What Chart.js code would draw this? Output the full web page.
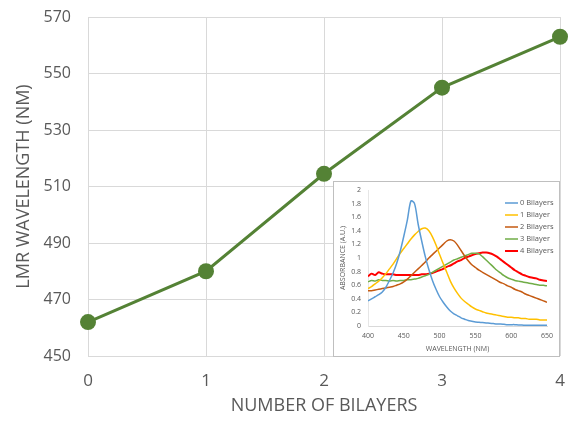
<!DOCTYPE html>
<html><head><meta charset="utf-8">
<script src="https://cdn.jsdelivr.net/npm/chart.js@4/dist/chart.umd.min.js"></script>
<style>
html,body{margin:0;padding:0;background:#fff;}
#wrap{position:relative;width:569px;height:423px;}
#main{position:absolute;left:0;top:0;}
#insetBox{position:absolute;left:333px;top:181px;width:227px;height:176px;box-sizing:border-box;border:1px solid #BFBFBF;background:#fff;}
#inset{position:absolute;left:0;top:0;}
</style></head>
<body>
<div id="wrap">
<canvas id="main" width="569" height="423"></canvas>
<div id="insetBox"><canvas id="inset" width="225" height="174"></canvas></div>
</div>
<script>
// Main chart data
const bilayers = [0, 1, 2, 3, 4];
const lmrWavelength = [462, 480, 514.5, 545, 563];
const mainYTicks = [450, 470, 490, 510, 530, 550, 570];

// Inset spectra data
const wavelengths = [400,405,410,415,420,425,430,435,440,445,450,455,460,465,470,475,480,485,490,495,500,505,510,515,520,525,530,535,540,545,550,555,560,565,570,575,580,585,590,595,600,605,610,615,620,625,630,635,640,645,650];
const seriesNames = ["0 Bilayers", "1 Bilayer", "2 Bilayers", "3 Bilayer", "4 Bilayers"];
const abs0 = [0.37,0.40,0.43,0.46,0.50,0.57,0.67,0.78,0.92,1.10,1.32,1.56,1.84,1.80,1.50,1.25,1.02,0.83,0.67,0.54,0.43,0.35,0.28,0.22,0.18,0.15,0.12,0.10,0.08,0.07,0.06,0.055,0.05,0.045,0.04,0.035,0.03,0.03,0.025,0.02,0.02,0.02,0.015,0.015,0.01,0.01,0.01,0.01,0.01,0.01,0.01];
const abs1 = [0.55,0.58,0.62,0.66,0.71,0.77,0.84,0.91,0.99,1.07,1.14,1.21,1.28,1.34,1.39,1.43,1.44,1.40,1.31,1.19,1.05,0.92,0.79,0.66,0.56,0.48,0.41,0.36,0.32,0.28,0.25,0.23,0.21,0.19,0.18,0.17,0.16,0.15,0.14,0.13,0.13,0.12,0.12,0.11,0.11,0.10,0.10,0.10,0.09,0.09,0.09];
const abs2 = [0.52,0.52,0.53,0.54,0.55,0.56,0.57,0.58,0.60,0.62,0.65,0.69,0.74,0.79,0.84,0.89,0.94,1.00,1.05,1.10,1.15,1.20,1.25,1.27,1.25,1.19,1.11,1.03,0.96,0.90,0.86,0.82,0.79,0.76,0.73,0.70,0.67,0.64,0.62,0.59,0.57,0.54,0.52,0.50,0.47,0.45,0.43,0.41,0.39,0.37,0.35];
const abs3 = [0.65,0.67,0.66,0.68,0.67,0.67,0.66,0.67,0.66,0.67,0.67,0.68,0.68,0.69,0.70,0.72,0.74,0.76,0.79,0.82,0.85,0.88,0.91,0.94,0.97,0.99,1.01,1.03,1.05,1.07,1.07,1.06,1.02,0.97,0.92,0.87,0.82,0.78,0.74,0.71,0.69,0.67,0.66,0.65,0.64,0.63,0.62,0.61,0.60,0.60,0.59];
const abs4 = [0.73,0.77,0.75,0.79,0.77,0.76,0.76,0.76,0.75,0.75,0.75,0.75,0.75,0.75,0.75,0.76,0.76,0.77,0.78,0.80,0.82,0.84,0.87,0.89,0.92,0.95,0.97,1.00,1.02,1.04,1.06,1.07,1.08,1.08,1.07,1.05,1.02,0.98,0.94,0.90,0.86,0.82,0.79,0.76,0.74,0.72,0.71,0.70,0.68,0.67,0.66];
const insetXTicks = [400, 450, 500, 550, 600, 650];
const insetYTicks = [0, 0.2, 0.4, 0.6, 0.8, 1, 1.2, 1.4, 1.6, 1.8, 2];

const TXT = '#595959';
const FONT = "'Open Sans', sans-serif";

function zeroPad(s) { s.paddingTop = 0; s.paddingBottom = 0; s.paddingLeft = 0; s.paddingRight = 0; }

// ---------- Main chart ----------
new Chart(document.getElementById('main'), {
  type: 'line',
  data: {
    datasets: [{
      data: bilayers.map((b, i) => ({x: b, y: lmrWavelength[i]})),
      borderColor: '#548235',
      backgroundColor: '#548235',
      borderWidth: 3,
      pointRadius: 8,
      pointHoverRadius: 8,
      pointBorderWidth: 0,
      tension: 0,
      clip: false
    }]
  },
  options: {
    responsive: false,
    animation: false,
    events: [],
    layout: {autoPadding: false, padding: {left: 0, top: 17, right: 9, bottom: 0}},
    plugins: {legend: {display: false}, tooltip: {enabled: false}},
    scales: {
      x: {
        type: 'linear', min: 0, max: 4,
        afterBuildTicks: s => { s.ticks = bilayers.map(v => ({value: v})); },
        afterFit: s => { s.height = 67; zeroPad(s); },
        grid: {color: '#D9D9D9', lineWidth: 1, drawTicks: false},
        border: {display: false},
        ticks: {padding: 15, autoSkip: false, color: TXT, font: {family: FONT, size: 17}},
        title: {display: true, text: 'NUMBER OF BILAYERS', color: TXT, font: {family: FONT, size: 18}, padding: {top: 0, bottom: 6}}
      },
      y: {
        min: 450, max: 570,
        afterBuildTicks: s => { s.ticks = mainYTicks.map(v => ({value: v})); },
        afterFit: s => { s.width = 88; zeroPad(s); },
        grid: {color: '#D9D9D9', lineWidth: 1, drawTicks: false},
        border: {display: false},
        ticks: {padding: 17, autoSkip: false, color: TXT, font: {family: FONT, size: 16}},
        title: {display: true, text: 'LMR WAVELENGTH (NM)', color: TXT, font: {family: FONT, size: 18}, padding: {top: 13, bottom: 0}}
      }
    }
  }
});

// ---------- Inset chart ----------
const insetColors = ['#5B9BD5', '#FFC000', '#C55A11', '#70AD47', '#FF0000'];
const insetWidths = [1.5, 1.5, 1.5, 1.5, 2];
const insetSeries = [abs0, abs1, abs2, abs3, abs4];

const insetLegend = {
  id: 'insetLegend',
  afterDatasetsDraw(chart) {
    const ctx = chart.ctx;
    ctx.save();
    ctx.font = "7.5px " + FONT;
    ctx.textBaseline = 'middle';
    ctx.textAlign = 'left';
    chart.data.datasets.forEach((ds, i) => {
      const y = 21 + i * 12;
      ctx.strokeStyle = ds.borderColor;
      ctx.lineWidth = ds.borderWidth;
      ctx.beginPath();
      ctx.moveTo(171, y);
      ctx.lineTo(184, y);
      ctx.stroke();
      ctx.fillStyle = TXT;
      ctx.fillText(ds.label, 186, y);
    });
    ctx.restore();
  }
};

new Chart(document.getElementById('inset'), {
  type: 'line',
  data: {
    datasets: insetSeries.map((arr, i) => ({
      label: seriesNames[i],
      data: wavelengths.map((w, j) => ({x: w, y: arr[j]})),
      borderColor: insetColors[i],
      backgroundColor: insetColors[i],
      borderWidth: insetWidths[i],
      pointRadius: 0,
      tension: 0.3
    }))
  },
  plugins: [insetLegend],
  options: {
    responsive: false,
    animation: false,
    events: [],
    layout: {autoPadding: false, padding: {left: 0, top: 8, right: 12, bottom: 0}},
    plugins: {legend: {display: false}, tooltip: {enabled: false}},
    scales: {
      x: {
        type: 'linear', min: 400, max: 650,
        afterBuildTicks: s => { s.ticks = insetXTicks.map(v => ({value: v})); },
        afterFit: s => { s.height = 30; zeroPad(s); },
        grid: {display: false, drawTicks: false},
        border: {display: true, color: '#D9D9D9', width: 1},
        ticks: {padding: 6, autoSkip: false, color: TXT, font: {family: FONT, size: 7}, callback: v => String(v)},
        title: {display: true, text: 'WAVELENGTH (NM)', color: TXT, font: {family: FONT, size: 7}, padding: {top: 0, bottom: 3}}
      },
      y: {
        min: 0, max: 2,
        afterBuildTicks: s => { s.ticks = insetYTicks.map(v => ({value: v})); },
        afterFit: s => { s.width = 34; zeroPad(s); },
        grid: {display: false, drawTicks: false},
        border: {display: true, color: '#E6E6E6', width: 1},
        ticks: {padding: 7, autoSkip: false, color: TXT, font: {family: FONT, size: 7}, callback: v => String(Math.round(v * 10) / 10)},
        title: {display: true, text: 'ABSORBANCE (A.U.)', color: TXT, font: {family: FONT, size: 7}, padding: {top: 5, bottom: 0}}
      }
    }
  }
});
</script>
</body></html>
